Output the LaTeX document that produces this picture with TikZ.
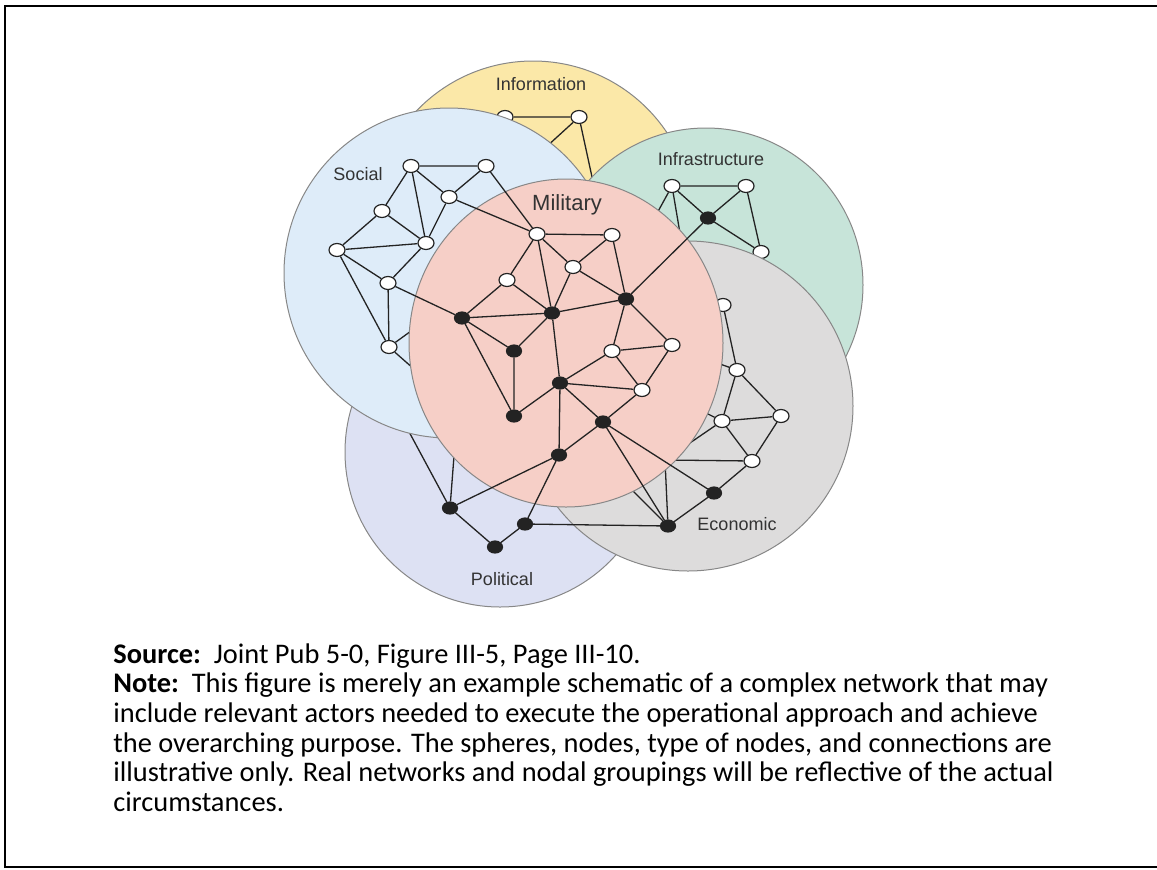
\documentclass[tikz,border=0pt]{standalone}
\usepackage{fontspec}
\setmainfont{Carlito}
\newfontfamily\spherefont{Liberation Sans}
\usetikzlibrary{shapes, positioning}

\definecolor{infofill}{RGB}{251,232,168}
\definecolor{socialfill}{RGB}{222,236,249}
\definecolor{infrafill}{RGB}{199,228,217}
\definecolor{milfill}{RGB}{246,207,199}
\definecolor{econfill}{RGB}{221,220,220}
\definecolor{polfill}{RGB}{221,225,243}
\definecolor{rimgray}{RGB}{135,135,135}
\definecolor{inkgray}{RGB}{35,35,35}

\begin{document}
\begin{tikzpicture}[
    x=0.5pt, y=-0.5pt,
    sphere/.style={circle, draw=rimgray, line width=0.5pt, inner sep=0pt, minimum size=#1},
    open/.style={ellipse, draw=inkgray, fill=white, line width=0.6pt, minimum width=8pt, minimum height=6.5pt, inner sep=0pt},
    hub/.style={ellipse, draw=inkgray, fill=inkgray, line width=0.6pt, minimum width=7.5pt, minimum height=6pt, inner sep=0pt},
    link/.style={draw=inkgray, line width=0.65pt},
    tag/.style={font=\spherefont\fontsize{9}{11}\selectfont, text=black!80}
]
\useasboundingbox (0,0) rectangle (1157,869);
\draw[line width=1pt] (5,5.5) rectangle (1175,866.5);

% Information
\node[sphere=161pt, fill=infofill] (info) at (533,222) {};
\node[tag] (infolabel) at (541,84) {Information};
\node[open] (ia) at (505,117) {};
\node[open] (ib) at (579,117) {};
\node[open] (ic) at (545,148) {};
\coordinate (ih) at (597,200);
\path[link] (ia) -- (ib) (ib) -- (ic) (ib) -- (ih);

% Infrastructure
\node[sphere=157pt, fill=infrafill] (infra) at (706,285) {};
\node[tag] (infralabel) at (711,159) {Infrastructure};
\node[open] (i1) at (672,186) {};
\node[open] (i2) at (746,186) {};
\node[hub] (i3) at (708,218) {};
\node[open] (i4) at (761,252) {};
\coordinate (ih1) at (650,226);
\coordinate (ih2) at (682,245);
\path[link] (i1) -- (i2) (i1) -- (i3) (i2) -- (i3) (i2) -- (i4) (i3) -- (i4)
    (i1) -- (ih1) (i1) -- (ih2);

% Political
\node[sphere=155pt, fill=polfill] (pol) at (500,452) {};
\node[tag] (pollabel) at (502,579) {Political};
\node[hub] (p1) at (450,508) {};
\node[hub] (p2) at (525,524) {};
\node[hub] (p3) at (495,547) {};
\coordinate (ph1) at (400,415);
\coordinate (ph2) at (456,430);
\path[link] (p1) -- (p3) (p3) -- (p2) (p1) -- (ph1) (p1) -- (ph2);

% Social
\node[sphere=165pt, fill=socialfill] (social) at (449,273) {};
\node[tag] (sociallabel) at (358,174) {Social};
\node[open] (s1) at (411,166) {};
\node[open] (s2) at (486,166) {};
\node[open] (s3) at (449,197) {};
\node[open] (s4) at (382,211) {};
\node[open] (s5) at (426,243) {};
\node[open] (s6) at (337,250) {};
\node[open] (s7) at (388,283) {};
\node[open] (s8) at (389,347) {};
\coordinate (sh1) at (440,310);
\coordinate (sh2) at (440,392);
\path[link] (s1) -- (s2) (s1) -- (s4) (s1) -- (s5) (s1) -- (s3) (s3) -- (s2)
    (s4) -- (s5) (s4) -- (s6) (s6) -- (s5) (s3) -- (s5) (s6) -- (s7)
    (s6) -- (s8) (s7) -- (s5) (s7) -- (s8) (s8) -- (sh1) (s8) -- (sh2);

% Economic
\node[sphere=165pt, fill=econfill] (econ) at (688,406) {};
\node[tag] (econlabel) at (737,524) {Economic};
\node[open] (e1) at (723,305) {};
\node[open] (e2) at (737,370) {};
\node[open] (e3) at (781,416) {};
\node[open] (e4) at (722,421) {};
\node[open] (e5) at (752,461) {};
\node[hub] (e6) at (714,493) {};
\node[hub] (e7) at (668,526) {};
\coordinate (eh1) at (700,357);
\coordinate (eh2) at (690,405);
\coordinate (eh3) at (665,460);
\coordinate (eh4) at (612,470);
\path[link] (e1) -- (e2) (e2) -- (e3) (e2) -- (e4) (e4) -- (e3) (e4) -- (e5)
    (e3) -- (e5) (e5) -- (e6) (e6) -- (e7) (e2) -- (eh1) (e4) -- (eh2)
    (e4) -- (eh3) (e5) -- (eh3) (e7) -- (eh3) (e7) -- (eh4);

% Military
\node[ellipse, draw=rimgray, line width=0.5pt, inner sep=0pt, fill=milfill,
    minimum width=157pt, minimum height=164pt] (mil) at (566,343) {};
\node[tag, font=\spherefont\fontsize{11}{13}\selectfont] (millabel) at (567,205) {Military};
\node[open] (m1) at (537,234) {};
\node[open] (m4) at (612,235) {};
\node[open] (m2) at (573,267) {};
\node[open] (m3) at (507,280) {};
\node[hub] (b1) at (462,318) {};
\node[hub] (b2) at (552,313) {};
\node[hub] (b6) at (626,299) {};
\node[hub] (b3) at (514,351) {};
\node[open] (m5) at (612,351) {};
\node[open] (m6) at (672,345) {};
\node[hub] (b4) at (560,383) {};
\node[open] (m7) at (642,390) {};
\node[hub] (b5) at (514,416) {};
\node[hub] (b7) at (603,422) {};
\node[hub] (b8) at (559,455) {};
\path[link] (m1) -- (m4) (m1) -- (m3) (m1) -- (b2) (m1) -- (m2) (m4) -- (m2)
    (m4) -- (b6) (m2) -- (b6) (m2) -- (b2) (m3) -- (b1) (m3) -- (b2)
    (b1) -- (b2) (b1) -- (b3) (b3) -- (b2) (b1) -- (b5) (b3) -- (b5)
    (b2) -- (b4) (b2) -- (b6) (b4) -- (b5) (b6) -- (m5) (b6) -- (m6)
    (m5) -- (m6) (m5) -- (b4) (m5) -- (m7) (m6) -- (m7) (b4) -- (m7)
    (b4) -- (b7) (m7) -- (b7) (b4) -- (b8) (b7) -- (b8);

% Links between spheres
\path[link] (s2) -- (m1) (s3) -- (m1) (s7) -- (b1) (i3) -- (b6)
    (b8) -- (p1) (b8) -- (p2) (p2) -- (e7) (b7) -- (e7) (b7) -- (e6);

% Source and note (anchored on the last line's baseline)
\node[anchor=base west, inner sep=0pt, align=left, font=\fontsize{14.2}{14.85}\selectfont] (note) at (113,811.5)
    {\textbf{Source:}\ \ Joint Pub 5-0, Figure III-5, Page III-10.\\
     \textbf{Note:}\ \ This figure is merely an example schematic of a complex network that may\\
     include relevant actors needed to execute the operational approach and achieve\\
     the overarching purpose. The spheres, nodes, type of nodes, and connections are\\
     illustrative only. Real networks and nodal groupings will be reflective of the actual\\
     circumstances.};

\end{tikzpicture}
\end{document}
